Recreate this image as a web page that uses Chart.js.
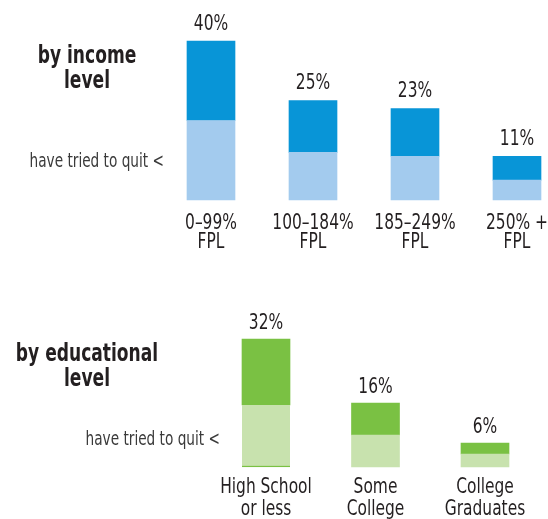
<!DOCTYPE html>
<html>
<head>
<meta charset="utf-8">
<script src="https://cdn.jsdelivr.net/npm/chart.js@4"></script>
<style>
  body { margin: 0; background: #fff; overflow: hidden; }
  #wrap { position: relative; width: 548px; height: 519px; font-family: 'Liberation Sans Narrow', 'DejaVu Sans Condensed', sans-serif; color: #231f20; }
  canvas { position: absolute; left: 0; }
  .title { position: absolute; left: -63px; width: 300px; text-align: center; font-weight: bold; font-size: 25px; line-height: 25px; white-space: nowrap; transform: scaleX(0.76); transform-origin: center top; }
  .note { position: absolute; text-align: right; font-size: 20px; line-height: 20px; color: #3a3a3a; white-space: nowrap; transform: scaleX(0.76); transform-origin: right center; }
</style>
</head>
<body>
<div id="wrap">
  <canvas id="income-chart" width="548" height="260" style="top:0"></canvas>
  <canvas id="edu-chart" width="548" height="259" style="top:260px"></canvas>
  <div class="title" style="top:42px">by income<br>level</div>
  <div class="note" style="top:150px; left:-136px; width:300px">have tried to quit &lt;</div>
  <div class="title" style="top:340px">by educational<br>level</div>
  <div class="note" style="top:428px; left:-80px; width:300px">have tried to quit &lt;</div>
</div>
<script>
// income level
const incomeLabels = [['0–99%', 'FPL'], ['100–184%', 'FPL'], ['185–249%', 'FPL'], ['250% +', 'FPL']];
const incomeTotals = [40, 25, 23, 11];
const incomeQuit = [20, 12, 11, 5];
const incomeOther = [20, 13, 12, 6];

// educational level
const eduLabels = [['High School', 'or less'], ['Some', 'College'], ['College', 'Graduates']];
const eduTotals = [32, 16, 6];
const eduQuit = [15.5, 8, 3.25];
const eduOther = [16.5, 8, 2.75];

const fontFamily = "'Liberation Sans Narrow', 'DejaVu Sans Condensed', sans-serif";
const textColor = '#231f20';
const squeeze = 0.78; // fake a condensed face

// write text squeezed horizontally around (x, y)
function squeezedText(ctx, text, x, y) {
    ctx.save();
    ctx.translate(x, y);
    ctx.scale(squeeze, 1);
    ctx.fillText(text, 0, 0);
    ctx.restore();
}

// totals above the stacked bars + category names under the x axis
const barText = {
    id: 'barText',
    afterDraw(chart, args, opts) {
        const ctx = chart.ctx;
        const xScale = chart.scales.x;
        const topMeta = chart.getDatasetMeta(chart.data.datasets.length - 1);
        ctx.save();
        ctx.font = '22px ' + fontFamily;
        ctx.fillStyle = textColor;
        ctx.textAlign = 'center';
        ctx.textBaseline = 'middle';
        topMeta.data.forEach((bar, i) => {
            squeezedText(ctx, opts.totals[i] + '%', bar.x, bar.y - opts.gap);
        });
        chart.data.labels.forEach((lines, i) => {
            const x = xScale.getPixelForValue(i);
            lines.forEach((line, j) => {
                squeezedText(ctx, line, x, xScale.top + opts.labelOffset + j * opts.lineGap);
            });
        });
        ctx.restore();
    }
};

const barOptions = (cfg) => ({
    responsive: false,
    animation: false,
    devicePixelRatio: 1,
    layout: { padding: cfg.padding },
    plugins: {
        legend: { display: false },
        tooltip: { enabled: false },
        barText: { totals: cfg.totals, gap: cfg.gap, labelOffset: cfg.labelOffset, lineGap: cfg.lineGap }
    },
    scales: {
        x: {
            stacked: true,
            offset: false,
            grid: { display: false, drawTicks: false },
            border: { display: false },
            ticks: { display: false },
            afterFit: (scale) => { scale.height = cfg.axisHeight; }
        },
        y: {
            stacked: true,
            display: false,
            min: 0,
            max: cfg.max
        }
    }
});

new Chart(document.getElementById('income-chart'), {
    type: 'bar',
    data: {
        labels: incomeLabels,
        datasets: [{
            label: 'have tried to quit',
            data: incomeQuit,
            backgroundColor: '#a3cbee',
            barThickness: 48,
            clip: false
        }, {
            label: 'smokers',
            data: incomeOther,
            backgroundColor: '#0895d7',
            barThickness: 48,
            clip: false
        }]
    },
    options: barOptions({
        padding: { top: 41, left: 211, right: 31, bottom: 10 },
        totals: incomeTotals,
        gap: 17,
        labelOffset: 23,
        lineGap: 19,
        axisHeight: 50,
        max: 40
    }),
    plugins: [barText]
});

new Chart(document.getElementById('edu-chart'), {
    type: 'bar',
    data: {
        labels: eduLabels,
        datasets: [{
            label: 'have tried to quit',
            data: eduQuit,
            backgroundColor: '#c8e2ae',
            borderColor: '#7ac143',
            borderSkipped: false,
            borderWidth: (ctx) => ctx.dataIndex === 0 ? { bottom: 1.5 } : 0,
            barThickness: 48,
            clip: false
        }, {
            label: 'smokers',
            data: eduOther,
            backgroundColor: '#7ac143',
            barThickness: 48,
            clip: false
        }]
    },
    options: barOptions({
        padding: { top: 79, left: 266, right: 63, bottom: 7 },
        totals: eduTotals,
        gap: 16,
        labelOffset: 20,
        lineGap: 22,
        axisHeight: 45,
        max: 32
    }),
    plugins: [barText]
});
</script>
</body>
</html>
